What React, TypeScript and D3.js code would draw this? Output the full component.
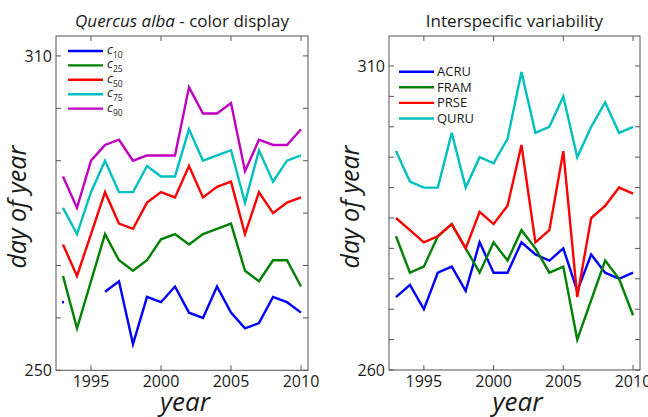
import React from "react";
import * as d3 from "d3";

const years = d3.range(1993, 2011);

// Left panel: Quercus alba colour percentiles
const leftSeriesNames = ["c10", "c25", "c50", "c75", "c90"];
const c10 = [263, NaN, NaN, 265, 267, 255, 264, 263, 266, 261, 260, 266, 261, 258, 259, 264, 263, 261];
const c25 = [268, 258, 267, 276, 271, 269, 271, 275, 276, 274, 276, 277, 278, 269, 267, 271, 271, 266];
const c50 = [274, 268, 276, 284, 278, 277, 282, 284, 283, 289, 283, 285, 286, 276, 284, 280, 282, 283];
const c75 = [281, 276, 284, 290, 284, 284, 289, 287, 287, 296, 290, 291, 292, 282, 292, 286, 290, 291];
const c90 = [287, 281, 290, 293, 294, 290, 291, 291, 291, 304, 299, 299, 301, 288, 294, 293, 293, 296];

// Right panel: species
const rightSeriesNames = ["ACRU", "FRAM", "PRSE", "QURU"];
const ACRU = [272, 274, 270, 276, 277, 273, 281, 276, 276, 281, 279, 278, 280, 273, 279, 276, 275, 276];
const FRAM = [282, 276, 277, 282, 284, 280, 276, 281, 278, 283, 280, 276, 277, 265, 271.5, 278, 275, 269];
const PRSE = [285, 283, 281, 282, 284, 280, 286, 284, 287, 297, 281, 283, 296, 272, 285, 287, 290, 289];
const QURU = [296, 291, 290, 290, 299, 290, 295, 294, 298, 309, 299, 300, 305, 295, 300, 304, 299, 300];

const xTicks = [1995, 2000, 2005, 2010];
const leftYTicks = [250, 260, 270, 280, 290, 300, 310];
const leftYLabels = [250, 310];
const rightYTicks = [260, 265, 270, 275, 280, 285, 290, 295, 300, 305, 310];
const rightYLabels = [260, 310];

const palette5 = ["#0000ff", "#008000", "#ff0000", "#00bfbf", "#bf00bf"];
const palette4 = ["#0000ff", "#008000", "#ff0000", "#00bfbf"];

const FONT = "'Open Sans', 'Noto Sans', sans-serif";
const AX = "#555";
const TXT = "#1a1a1a";

type PanelProps = {
  x0: number; x1: number; y0: number; y1: number;
  yDomain: [number, number];
  series: number[][];
  colors: string[];
  yTicks: number[];
  yLabels: number[];
  legend: React.ReactNode;
  title: React.ReactNode;
};

function Panel(p: PanelProps) {
  const xs = d3.scaleLinear().domain([1992.5, 2010.5]).range([p.x0, p.x1]);
  const ys = d3.scaleLinear().domain(p.yDomain).range([p.y1, p.y0]);
  const line = d3.line<number>()
    .defined((v) => !isNaN(v))
    .x((_, i) => xs(years[i]))
    .y((v) => ys(v));
  const tick = 5;
  const cx = (p.x0 + p.x1) / 2;
  const cy = (p.y0 + p.y1) / 2;
  return (
    <g>
      <defs>
        <clipPath id={`clip${p.x0}`}>
          <rect x={p.x0} y={p.y0} width={p.x1 - p.x0} height={p.y1 - p.y0} />
        </clipPath>
      </defs>
      <g clipPath={`url(#clip${p.x0})`}>
        {p.series.map((s, k) => {
          const isolated = s
            .map((v, i) => ({ v, i }))
            .filter(({ v, i }) => !isNaN(v) && (i === 0 || isNaN(s[i - 1])) && (i === s.length - 1 || isNaN(s[i + 1])));
          return (
            <g key={k}>
              <path d={line(s) || ""} fill="none" stroke={p.colors[k]} strokeWidth={2.4} strokeLinejoin="miter" />
              {isolated.map(({ v, i }) => (
                <rect key={i} x={xs(years[i]) - 1} y={ys(v) - 1.2} width={2} height={2.4} fill={p.colors[k]} />
              ))}
            </g>
          );
        })}
      </g>
      <rect x={p.x0} y={p.y0} width={p.x1 - p.x0} height={p.y1 - p.y0} fill="none" stroke={AX} strokeWidth={1} />
      {xTicks.map((t) => (
        <g key={t}>
          <line x1={xs(t)} x2={xs(t)} y1={p.y1} y2={p.y1 - tick} stroke={AX} />
          <line x1={xs(t)} x2={xs(t)} y1={p.y0} y2={p.y0 + tick} stroke={AX} />
          <text x={xs(t)} y={p.y1 + 17} textAnchor="middle" fontSize={16} fill={TXT} fontFamily={FONT}>{t}</text>
        </g>
      ))}
      {p.yTicks.map((t) => (
        <g key={t}>
          <line x1={p.x0} x2={p.x0 + tick} y1={ys(t)} y2={ys(t)} stroke={AX} />
          <line x1={p.x1} x2={p.x1 - tick} y1={ys(t)} y2={ys(t)} stroke={AX} />
        </g>
      ))}
      {p.yLabels.map((t) => (
        <text key={t} x={p.x0 - 4} y={ys(t) + 6} textAnchor="end" fontSize={16} fill={TXT} fontFamily={FONT}>{t}</text>
      ))}
      <text x={cx} y={p.y0 - 9} textAnchor="middle" fontSize={17} fill={TXT} fontFamily={FONT}>{p.title}</text>
      <text x={cx + 3} y={p.y1 + 41} textAnchor="middle" fontSize={26} fontStyle="italic" fill={TXT} fontFamily={FONT}>year</text>
      <text transform={`translate(${p.x0 - 30},${cy + 4}) rotate(-90)`} textAnchor="middle" fontSize={25} fontStyle="italic" fill={TXT} fontFamily={FONT}>day of year</text>
      {p.legend}
    </g>
  );
}

export default function App() {
  const leftLegend = (
    <g>
      {leftSeriesNames.map((n, i) => {
        const y = 51 + i * 14.4;
        return (
          <g key={n}>
            <line x1={68} x2={103} y1={y} y2={y} stroke={palette5[i]} strokeWidth={2.4} />
            <text x={107} y={y + 3} fontSize={13} fill={TXT} fontFamily={FONT}>
              <tspan fontStyle="italic">c</tspan>
              <tspan fontSize={8.5} dy={4}>{n.slice(1)}</tspan>
            </text>
          </g>
        );
      })}
    </g>
  );
  const rightLegend = (
    <g>
      {rightSeriesNames.map((n, i) => {
        const y = 71.7 + i * 15.6;
        return (
          <g key={n}>
            <line x1={399} x2={434} y1={y} y2={y} stroke={palette4[i]} strokeWidth={2.4} />
            <text x={437} y={y + 4.5} fontSize={13} fill={TXT} fontFamily={FONT}>{n}</text>
          </g>
        );
      })}
    </g>
  );
  return (
    <svg width={648} height={417} style={{ position: "absolute", left: 0, top: 0, background: "#fff" }}>
      <Panel
        x0={56} x1={308} y0={36} y1={370.3}
        yDomain={[250, 313.8]}
        series={[c10, c25, c50, c75, c90]}
        colors={palette5}
        yTicks={leftYTicks}
        yLabels={leftYLabels}
        legend={leftLegend}
        title={<><tspan fontStyle="italic">Quercus alba</tspan> - color display</>}
      />
      <Panel
        x0={389} x1={640} y0={36} y1={370}
        yDomain={[260, 314.93]}
        series={[ACRU, FRAM, PRSE, QURU]}
        colors={palette4}
        yTicks={rightYTicks}
        yLabels={rightYLabels}
        legend={rightLegend}
        title={<>Interspecific variability</>}
      />
    </svg>
  );
}
